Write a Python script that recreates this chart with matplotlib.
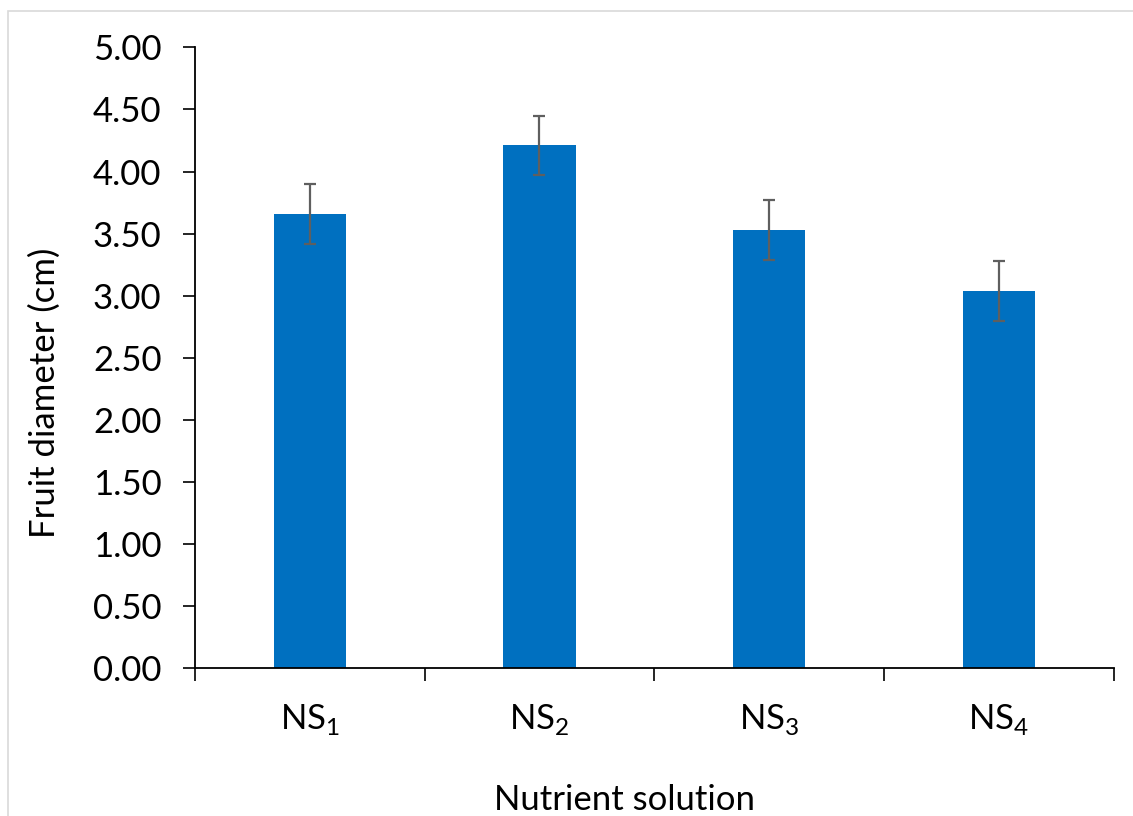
import matplotlib
matplotlib.use("Agg")
import matplotlib.pyplot as plt
from matplotlib.patches import Rectangle

plt.rcParams['font.family'] = ['Lato', 'DejaVu Sans']
plt.rcParams['mathtext.fontset'] = 'custom'
plt.rcParams['mathtext.rm'] = 'Lato'

labels = [r'NS$_\mathrm{1}$', r'NS$_\mathrm{2}$', r'NS$_\mathrm{3}$', r'NS$_\mathrm{4}$']
diameter = [3.66, 4.21, 3.53, 3.04]
err = [0.24, 0.24, 0.24, 0.24]
yticks = [0.0, 0.5, 1.0, 1.5, 2.0, 2.5, 3.0, 3.5, 4.0, 4.5, 5.0]

fig = plt.figure(figsize=(11.33, 8.16), dpi=100)
ax = fig.add_axes([0.172, 0.181, 0.811, 0.761])

x = range(len(labels))
ax.bar(x, diameter, width=0.315, color='#0070C0',
       yerr=err, error_kw=dict(ecolor='#5f5f5f', elinewidth=1.6, capsize=4.5, capthick=1.6))

ax.set_xlim(-0.5, 3.5)
ax.set_ylim(0, 5)
ax.set_yticks(yticks)
ax.set_yticklabels(['%.2f' % v for v in yticks], fontsize=25)
ax.set_xticks(list(x))
ax.set_xticklabels(labels, fontsize=25)
ax.tick_params(axis='x', which='major', length=0, pad=24)
ax.set_xticks([-0.5, 0.5, 1.5, 2.5, 3.5], minor=True)
ax.tick_params(axis='x', which='minor', length=9, width=1.2, direction='out')
ax.tick_params(axis='y', length=9, width=1.2, direction='out', pad=15)

for s in ['top', 'right']:
    ax.spines[s].set_visible(False)
for s in ['left', 'bottom']:
    ax.spines[s].set_linewidth(1.3)

fig.text(45 / 1133, 1 - 393 / 816, 'Fruit diameter (cm)', fontsize=25,
         rotation=90, ha='center', va='center')
fig.text(625 / 1133, 1 - 800 / 816, 'Nutrient solution', fontsize=25,
         ha='center', va='center')

fig.patches.append(Rectangle((8 / 1133, -0.05), 1.2, 1 - 11 / 816 + 0.05,
                             transform=fig.transFigure, fill=False,
                             edgecolor='#d9d9d9', linewidth=1.2))

fig.savefig('out.png', dpi=100)
